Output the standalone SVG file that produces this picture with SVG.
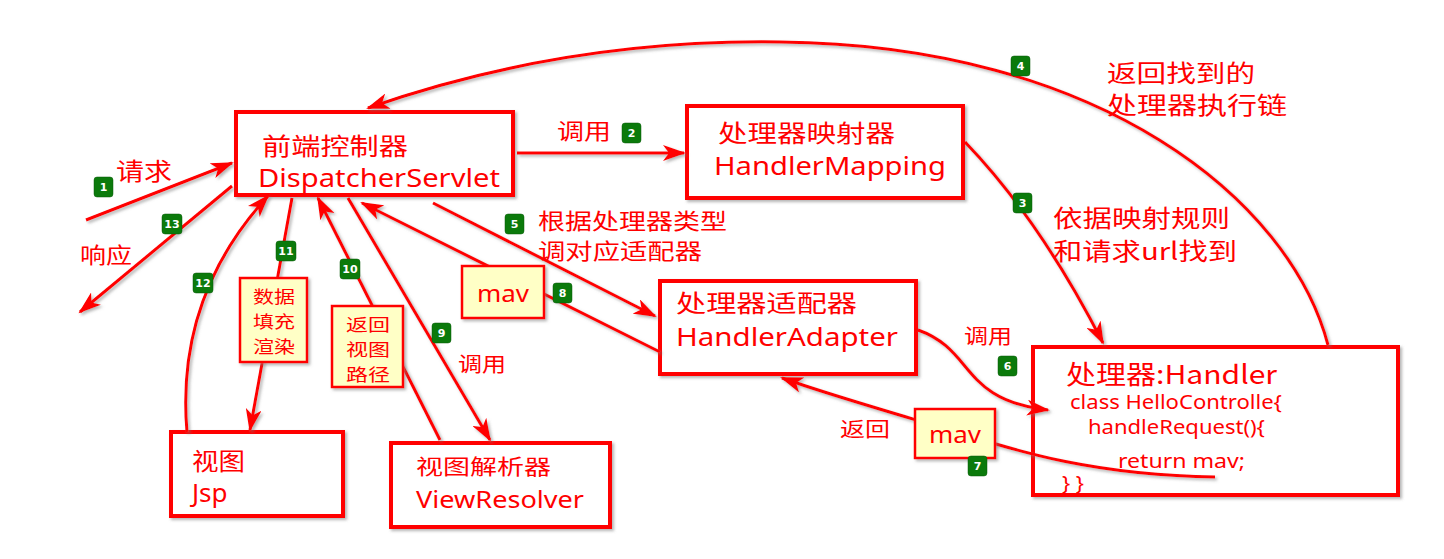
<svg xmlns="http://www.w3.org/2000/svg" width="1444" height="559" viewBox="0 0 1444 559">
<style>
.box{fill:#fff;stroke:#ff0000;stroke-width:4;filter:url(#sh)}
.note{fill:#ffffc6;stroke:#ff0000;stroke-width:2.5;filter:url(#sh)}
.ln{fill:none;stroke:#ff0000;stroke-width:3;filter:url(#sh)}
.arr{marker-end:url(#ah)}
.cn{font-family:"Noto Sans CJK SC","Noto Sans",sans-serif;fill:#ff0000}
.en{font-family:"Noto Sans","Liberation Sans",sans-serif;fill:#ff0000}
.nt{font-family:"Noto Sans CJK SC","Noto Sans",sans-serif;fill:#ff0000;font-size:17px}
.bd rect{fill:#0b7a0b;stroke:#0a5a0a;stroke-width:0.5}
.bd text{font-family:"DejaVu Sans",sans-serif;font-size:11px;fill:#fff;text-anchor:middle;font-weight:bold}
</style>
<defs>
<filter id="sh" filterUnits="userSpaceOnUse" x="0" y="0" width="1444" height="559">
<feDropShadow dx="2" dy="2" stdDeviation="1.5" flood-color="#777" flood-opacity="0.55"/>
</filter>
<marker id="ah" markerUnits="userSpaceOnUse" markerWidth="24" markerHeight="16" refX="21" refY="8" orient="auto">
<path d="M0,0 L23,8 L0,16 L6,8 z" fill="#ff0000"/>
</marker>
</defs>
<rect width="1444" height="559" fill="#fff"/>

<g id="dispatcher">
<rect class="box" x="236" y="112" width="277" height="83"/>
<text class="cn" x="262" y="155" font-size="24" textLength="146" lengthAdjust="spacingAndGlyphs">前端控制器</text>
<text class="en" x="258" y="187" font-size="26" textLength="242" lengthAdjust="spacingAndGlyphs">DispatcherServlet</text>
</g>
<g id="handlerMapping">
<rect class="box" x="687" y="106" width="276" height="92"/>
<text class="cn" x="718" y="142" font-size="24" textLength="177" lengthAdjust="spacingAndGlyphs">处理器映射器</text>
<text class="en" x="714" y="175" font-size="26" textLength="232" lengthAdjust="spacingAndGlyphs">HandlerMapping</text>
</g>
<g id="handlerAdapter">
<rect class="box" x="660" y="281" width="256" height="93"/>
<text class="cn" x="676" y="312" font-size="24" textLength="181" lengthAdjust="spacingAndGlyphs">处理器适配器</text>
<text class="en" x="676" y="346" font-size="26" textLength="222" lengthAdjust="spacingAndGlyphs">HandlerAdapter</text>
</g>
<g id="handler">
<rect class="box" x="1033" y="347" width="365" height="148"/>
<text class="cn" x="1066" y="384" font-size="26" textLength="211" lengthAdjust="spacingAndGlyphs">处理器:Handler</text>
<text class="en" x="1070" y="409" font-size="19" textLength="212" lengthAdjust="spacingAndGlyphs">class HelloControlle{</text>
<text class="en" x="1088" y="434" font-size="19" textLength="177" lengthAdjust="spacingAndGlyphs">handleRequest(){</text>
<text class="en" x="1118" y="468" font-size="19" textLength="127" lengthAdjust="spacingAndGlyphs">return mav;</text>
<text class="en" x="1062" y="490" font-size="19" textLength="22" lengthAdjust="spacingAndGlyphs">} }</text>
</g>
<g id="jsp">
<rect class="box" x="171" y="432" width="172" height="84"/>
<text class="cn" x="192" y="470" font-size="24" textLength="53" lengthAdjust="spacingAndGlyphs">视图</text>
<text class="en" x="192" y="502" font-size="26">Jsp</text>
</g>
<g id="viewResolver">
<rect class="box" x="391" y="443" width="219" height="84"/>
<text class="cn" x="416" y="474" font-size="21" textLength="135" lengthAdjust="spacingAndGlyphs">视图解析器</text>
<text class="en" x="416" y="508" font-size="24" textLength="168" lengthAdjust="spacingAndGlyphs">ViewResolver</text>
</g>

<g id="connectors">
<path class="ln arr" d="M86,220 L232,163"/>
<path class="ln arr" d="M232,186 L80,312"/>
<path class="ln arr" d="M187,432 C180,350 200,270 268,196"/>
<path class="ln arr" d="M292,198 L250,430"/>
<path class="ln arr" d="M440,440 L318,198"/>
<path class="ln arr" d="M348,198 L490,440"/>
<path class="ln arr" d="M660,352 L362,203"/>
<path class="ln arr" d="M433,203 L655,316"/>
<path class="ln arr" d="M517,153 L684,153"/>
<path class="ln arr" d="M965,142 Q1040,220 1103,343"/>
<path class="ln arr" d="M1328,345 C1290,200 1100,45 780,42 C640,40 500,62 368,108"/>
<path class="ln arr" d="M918,330 C975,350 960,400 1048,410"/>
<path class="ln arr" d="M1215,477 C1080,475 1000,445 950,430 S830,395 782,378"/>
</g>

<g id="note-render">
<rect class="note" x="240" y="278" width="67" height="84"/>
<text class="nt" x="253" y="303" textLength="42" lengthAdjust="spacingAndGlyphs">数据</text>
<text class="nt" x="253" y="328" textLength="42" lengthAdjust="spacingAndGlyphs">填充</text>
<text class="nt" x="253" y="353" textLength="42" lengthAdjust="spacingAndGlyphs">渲染</text>
</g>
<g id="note-path">
<rect class="note" x="332" y="306" width="71" height="81"/>
<text class="nt" x="346" y="331" textLength="44" lengthAdjust="spacingAndGlyphs">返回</text>
<text class="nt" x="346" y="356" textLength="44" lengthAdjust="spacingAndGlyphs">视图</text>
<text class="nt" x="346" y="381" textLength="44" lengthAdjust="spacingAndGlyphs">路径</text>
</g>
<g id="note-mav1">
<rect class="note" x="462" y="266" width="82" height="52"/>
<text class="en" x="477" y="302" font-size="23" textLength="52" lengthAdjust="spacingAndGlyphs">mav</text>
</g>
<g id="note-mav2">
<rect class="note" x="915" y="409" width="80" height="49"/>
<text class="en" x="929" y="443" font-size="23" textLength="52" lengthAdjust="spacingAndGlyphs">mav</text>
</g>

<g id="labels">
<text class="cn" x="116" y="180" font-size="24" textLength="56" lengthAdjust="spacingAndGlyphs">请求</text>
<text class="cn" x="80" y="263" font-size="22" textLength="52" lengthAdjust="spacingAndGlyphs">响应</text>
<text class="cn" x="557" y="139" font-size="22" textLength="54" lengthAdjust="spacingAndGlyphs">调用</text>
<text class="cn" x="538" y="229" font-size="22" textLength="189" lengthAdjust="spacingAndGlyphs">根据处理器类型</text>
<text class="cn" x="538" y="259" font-size="22" textLength="164" lengthAdjust="spacingAndGlyphs">调对应适配器</text>
<text class="cn" x="1053" y="227" font-size="24" textLength="177" lengthAdjust="spacingAndGlyphs">依据映射规则</text>
<text class="cn" x="1053" y="260" font-size="24" textLength="184" lengthAdjust="spacingAndGlyphs">和请求url找到</text>
<text class="cn" x="1107" y="82" font-size="24" textLength="148" lengthAdjust="spacingAndGlyphs">返回找到的</text>
<text class="cn" x="1107" y="114" font-size="24" textLength="180" lengthAdjust="spacingAndGlyphs">处理器执行链</text>
<text class="cn" x="964" y="344" font-size="20" textLength="48" lengthAdjust="spacingAndGlyphs">调用</text>
<text class="cn" x="840" y="437" font-size="20" textLength="50" lengthAdjust="spacingAndGlyphs">返回</text>
<text class="cn" x="458" y="372" font-size="20" textLength="48" lengthAdjust="spacingAndGlyphs">调用</text>
</g>

<g id="badges" class="bd">
<rect x="94" y="177" width="19" height="20" rx="3"/><text x="103.5" y="191">1</text>
<rect x="622" y="123" width="19" height="20" rx="3"/><text x="631.5" y="137">2</text>
<rect x="1013" y="193" width="19" height="20" rx="3"/><text x="1022.5" y="207">3</text>
<rect x="1011" y="56" width="19" height="20" rx="3"/><text x="1020.5" y="70">4</text>
<rect x="505" y="214" width="19" height="20" rx="3"/><text x="514.5" y="228">5</text>
<rect x="998" y="356" width="19" height="20" rx="3"/><text x="1007.5" y="370">6</text>
<rect x="968" y="456" width="19" height="20" rx="3"/><text x="977.5" y="470">7</text>
<rect x="553" y="283" width="19" height="20" rx="3"/><text x="562.5" y="297">8</text>
<rect x="432" y="323" width="19" height="20" rx="3"/><text x="441.5" y="337">9</text>
<rect x="340" y="259" width="20" height="20" rx="3"/><text x="350" y="273">10</text>
<rect x="276" y="241" width="20" height="20" rx="3"/><text x="286" y="255">11</text>
<rect x="193" y="273" width="20" height="20" rx="3"/><text x="203" y="287">12</text>
<rect x="162" y="214" width="20" height="20" rx="3"/><text x="172" y="228">13</text>
</g>
</svg>
